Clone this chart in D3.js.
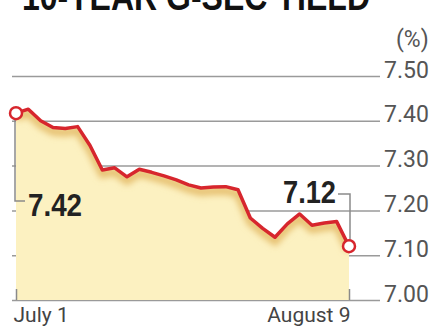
<!DOCTYPE html>
<html>
<head>
<meta charset="utf-8">
<script src="https://cdn.jsdelivr.net/npm/d3@7"></script>
<style>
  body { margin: 0; background: #fff; }
</style>
</head>
<body>
<div id="chart"></div>
<script>
// trading days, July 1 - August 9
var dates = ['Jul 1', 'Jul 4', 'Jul 5', 'Jul 6', 'Jul 7', 'Jul 8', 'Jul 11', 'Jul 12', 'Jul 13', 'Jul 14',
  'Jul 15', 'Jul 18', 'Jul 19', 'Jul 20', 'Jul 21', 'Jul 22', 'Jul 25', 'Jul 26', 'Jul 27', 'Jul 28',
  'Jul 29', 'Aug 1', 'Aug 2', 'Aug 3', 'Aug 4', 'Aug 5', 'Aug 8', 'Aug 9'];
var yields = [7.417, 7.426, 7.40, 7.385, 7.383, 7.387, 7.345, 7.29, 7.295, 7.275,
  7.292, 7.285, 7.277, 7.268, 7.257, 7.25, 7.252, 7.253, 7.246, 7.183,
  7.16, 7.14, 7.17, 7.192, 7.167, 7.172, 7.175, 7.12];
var yTicks = [7.00, 7.10, 7.20, 7.30, 7.40, 7.50];
var xLabels = ['July 1', 'August 9'];
var title = '10-YEAR G-SEC YIELD';
var unit = '(%)';

var width = 438, height = 330;

var svg = d3.select('#chart')
  .append('svg')
    .attr('width', width)
    .attr('height', height);

var x = d3.scalePoint()
    .domain(dates)
    .range([16, 349]);

var y = d3.scaleLinear()
    .domain([7.0, 7.5])
    .range([300, 76]);

// title, cut at the top like the original
svg.append('text')
    .attr('x', 22)
    .attr('y', 10)
    .attr('textLength', 348)
    .attr('lengthAdjust', 'spacingAndGlyphs')
    .attr('font-family', 'Liberation Sans, sans-serif')
    .attr('font-weight', 'bold')
    .attr('font-size', 38)
    .attr('fill', '#111')
    .text(title);

svg.append('text')
    .attr('x', 396)
    .attr('y', 47)
    .attr('font-family', 'Roboto, sans-serif')
    .attr('font-size', 23)
    .attr('fill', '#555')
    .text(unit);

// right axis with gridlines
var yAxis = svg.append('g')
    .attr('transform', 'translate(380,0)')
    .call(d3.axisRight(y).tickValues(yTicks).tickSize(-368).tickPadding(4).tickFormat(d3.format('.2f')));
yAxis.select('.domain').remove();
yAxis.selectAll('line').attr('stroke', '#9a9a9a').attr('stroke-width', 1.5);
yAxis.selectAll('text')
    .attr('dy', '0.05em')
    .attr('font-family', 'Roboto, sans-serif')
    .attr('font-size', 23)
    .attr('fill', '#555');

var defs = svg.append('defs');
defs.append('filter')
    .attr('id', 'blur')
    .attr('x', '-10%').attr('y', '-50%').attr('width', '120%').attr('height', '200%')
  .append('feGaussianBlur')
    .attr('stdDeviation', 3);

var area = d3.area()
    .x(function(d, i) { return x(dates[i]); })
    .y0(y(7.0))
    .y1(function(d) { return y(d); });

var line = d3.line()
    .x(function(d, i) { return x(dates[i]); })
    .y(function(d) { return y(d); });

defs.append('clipPath')
    .attr('id', 'area_clip')
  .append('path')
    .attr('d', area(yields));

svg.append('path')
    .attr('d', area(yields))
    .attr('fill', '#fcf1c1');

// soft shade under the line
svg.append('g')
    .attr('clip-path', 'url(#area_clip)')
  .append('path')
    .attr('d', line(yields))
    .attr('transform', 'translate(0,4)')
    .attr('fill', 'none')
    .attr('stroke', '#e6c070')
    .attr('stroke-width', 8)
    .attr('filter', 'url(#blur)');

svg.append('path')
    .attr('d', line(yields))
    .attr('fill', 'none')
    .attr('stroke', '#d7262d')
    .attr('stroke-width', 3.5)
    .attr('stroke-linejoin', 'round');

// bottom axis: ticks pointing up, labels at the ends
var first = dates[0], last = dates[dates.length - 1];
var xAxis = svg.append('g')
    .attr('transform', 'translate(0,' + y(7.0) + ')')
    .call(d3.axisBottom(x).tickValues([first, last]).tickSize(-11).tickPadding(7)
      .tickFormat(function(d, i) { return xLabels[i]; }));
xAxis.select('.domain').remove();
xAxis.selectAll('line').attr('stroke', '#8a8a8a').attr('stroke-width', 1.5);
xAxis.selectAll('text')
    .attr('font-family', 'Roboto, sans-serif')
    .attr('font-size', 21)
    .attr('fill', '#444')
    .attr('text-anchor', function(d, i) { return i === 0 ? 'start' : 'end'; })
    .attr('dx', function(d, i) { return i === 0 ? -3 : 1; });

// callouts
var x0 = x(first), x1 = x(last);
var y0 = y(yields[0]), y1 = y(yields[yields.length - 1]);

svg.append('path')
    .attr('d', 'M' + (x0 - 1) + ',' + (y0 + 6) + 'V201H25')
    .attr('fill', 'none')
    .attr('stroke', '#8a8a8a')
    .attr('stroke-width', 1.5);

svg.append('path')
    .attr('d', 'M338,194H' + (x1 + 1) + 'V' + (y1 - 6))
    .attr('fill', 'none')
    .attr('stroke', '#8a8a8a')
    .attr('stroke-width', 1.5);

svg.append('text')
    .attr('x', 28)
    .attr('y', 216)
    .attr('textLength', 54)
    .attr('lengthAdjust', 'spacingAndGlyphs')
    .attr('font-family', 'Liberation Sans, sans-serif')
    .attr('font-weight', 'bold')
    .attr('font-size', 32)
    .attr('fill', '#222')
    .text(d3.format('.2f')(yields[0]));

svg.append('text')
    .attr('x', 283)
    .attr('y', 203)
    .attr('textLength', 53)
    .attr('lengthAdjust', 'spacingAndGlyphs')
    .attr('font-family', 'Liberation Sans, sans-serif')
    .attr('font-weight', 'bold')
    .attr('font-size', 31)
    .attr('fill', '#222')
    .text(d3.format('.2f')(yields[yields.length - 1]));

svg.selectAll('circle.end')
    .data([0, yields.length - 1])
    .enter().append('circle')
      .attr('class', 'end')
      .attr('cx', function(i) { return x(dates[i]); })
      .attr('cy', function(i) { return y(yields[i]); })
      .attr('r', 6)
      .attr('fill', '#fff')
      .attr('stroke', '#d7262d')
      .attr('stroke-width', 2.5);
</script>
</body>
</html>
